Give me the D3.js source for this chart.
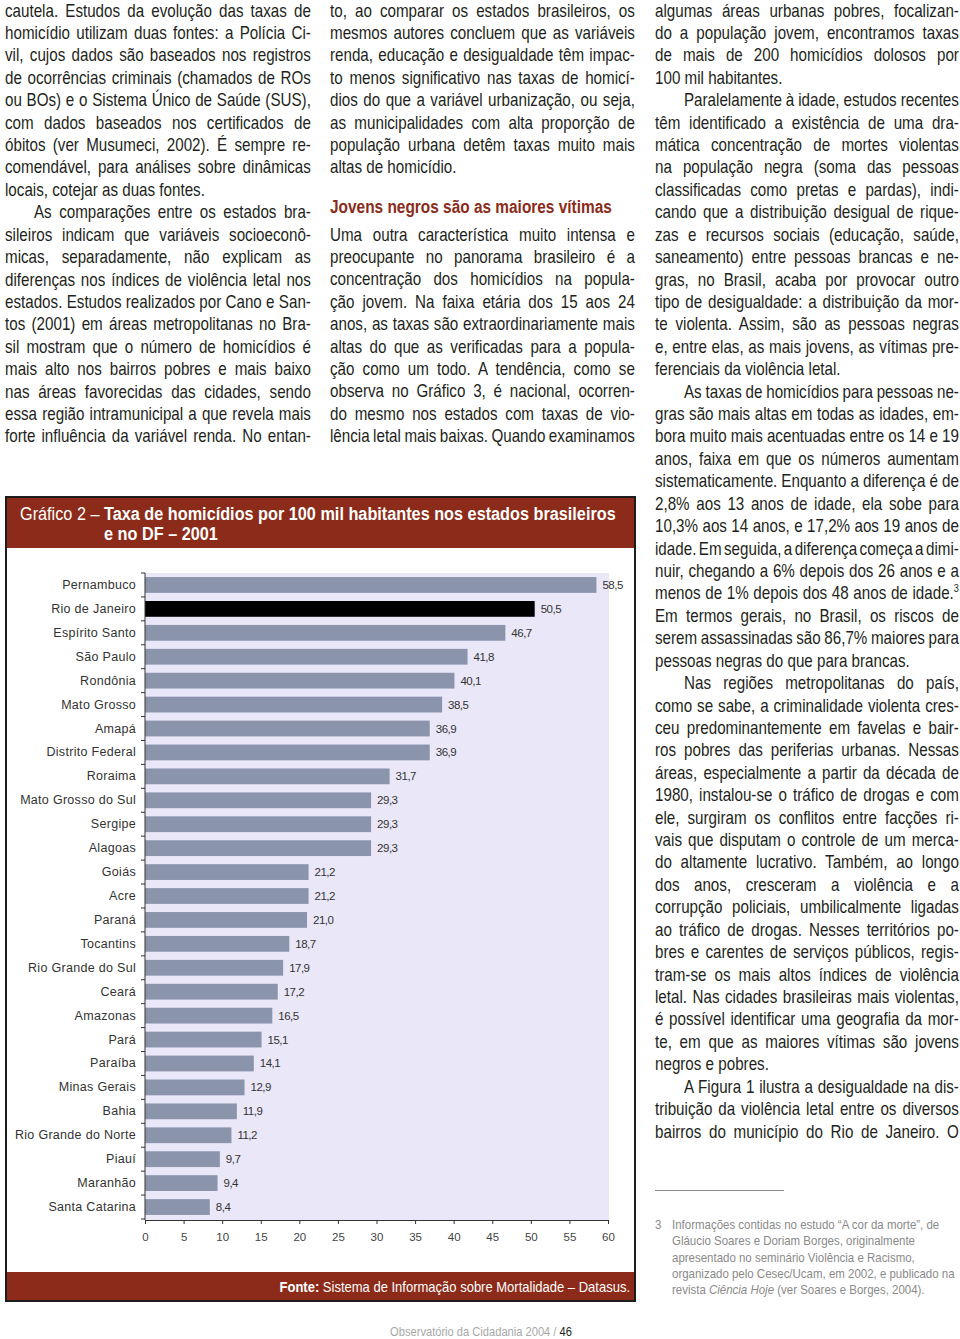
<!DOCTYPE html>
<html><head><meta charset="utf-8">
<script src="https://cdn.jsdelivr.net/npm/d3@7"></script>
<style>html,body{margin:0;padding:0;background:#fff;} svg{display:block;}</style>
</head><body>
<svg id="page" width="960" height="1339"></svg>
<script>
// ---------------- chart data ----------------
const states = ["Pernambuco","Rio de Janeiro","Espírito Santo","São Paulo","Rondônia","Mato Grosso","Amapá","Distrito Federal","Roraima","Mato Grosso do Sul","Sergipe","Alagoas","Goiás","Acre","Paraná","Tocantins","Rio Grande do Sul","Ceará","Amazonas","Pará","Paraíba","Minas Gerais","Bahia","Rio Grande do Norte","Piauí","Maranhão","Santa Catarina"];
const rates = [58.5,50.5,46.7,41.8,40.1,38.5,36.9,36.9,31.7,29.3,29.3,29.3,21.2,21.2,21.0,18.7,17.9,17.2,16.5,15.1,14.1,12.9,11.9,11.2,9.7,9.4,8.4];
const highlighted = ["Rio de Janeiro"];
const xTicks = [0,5,10,15,20,25,30,35,40,45,50,55,60];
const titleLight = "Gráfico 2 – ";
const titleBold1 = "Taxa de homicídios por 100 mil habitantes nos estados brasileiros";
const titleBold2 = "e no DF – 2001";
const sourceBold = "Fonte:";
const sourceText = " Sistema de Informação sobre Mortalidade – Datasus.";

// ---------------- page text ----------------
const col1 = [
"cautela. Estudos da evolução das taxas de",
"homicídio utilizam duas fontes: a Polícia Ci-",
"vil, cujos dados são baseados nos registros",
"de ocorrências criminais (chamados de ROs",
"ou BOs) e o Sistema Único de Saúde (SUS),",
"com dados baseados nos certificados de",
"óbitos (ver Musumeci, 2002). É sempre re-",
"comendável, para análises sobre dinâmicas",
"locais, cotejar as duas fontes.|",
">As comparações entre os estados bra-",
"sileiros indicam que variáveis socioeconô-",
"micas, separadamente, não explicam as",
"diferenças nos índices de violência letal nos",
"estados. Estudos realizados por Cano e San-",
"tos (2001) em áreas metropolitanas no Bra-",
"sil mostram que o número de homicídios é",
"mais alto nos bairros pobres e mais baixo",
"nas áreas favorecidas das cidades, sendo",
"essa região intramunicipal a que revela mais",
"forte influência da variável renda. No entan-"];
const col2a = [
"to, ao comparar os estados brasileiros, os",
"mesmos autores concluem que as variáveis",
"renda, educação e desigualdade têm impac-",
"to menos significativo nas taxas de homicí-",
"dios do que a variável urbanização, ou seja,",
"as municipalidades com alta proporção de",
"população urbana detêm taxas muito mais",
"altas de homicídio.|"];
const col2Heading = "Jovens negros são as maiores vítimas";
const col2b = [
"Uma outra característica muito intensa e",
"preocupante no panorama brasileiro é a",
"concentração dos homicídios na popula-",
"ção jovem. Na faixa etária dos 15 aos 24",
"anos, as taxas são extraordinariamente mais",
"altas do que as verificadas para a popula-",
"ção como um todo. A tendência, como se",
"observa no Gráfico 3, é nacional, ocorren-",
"do mesmo nos estados com taxas de vio-",
"lência letal mais baixas. Quando examinamos"];
const col3 = [
"algumas áreas urbanas pobres, focalizan-",
"do a população jovem, encontramos taxas",
"de mais de 200 homicídios dolosos por",
"100 mil habitantes.|",
">Paralelamente à idade, estudos recentes",
"têm identificado a existência de uma dra-",
"mática concentração de mortes violentas",
"na população negra (soma das pessoas",
"classificadas como pretas e pardas), indi-",
"cando que a distribuição desigual de rique-",
"zas e recursos sociais (educação, saúde,",
"saneamento) entre pessoas brancas e ne-",
"gras, no Brasil, acaba por provocar outro",
"tipo de desigualdade: a distribuição da mor-",
"te violenta. Assim, são as pessoas negras",
"e, entre elas, as mais jovens, as vítimas pre-",
"ferenciais da violência letal.|",
">As taxas de homicídios para pessoas ne-",
"gras são mais altas em todas as idades, em-",
"bora muito mais acentuadas entre os 14 e 19",
"anos, faixa em que os números aumentam",
"sistematicamente. Enquanto a diferença é de",
"2,8% aos 13 anos de idade, ela sobe para",
"10,3% aos 14 anos, e 17,2% aos 19 anos de",
"idade. Em seguida, a diferença começa a dimi-",
"nuir, chegando a 6% depois dos 26 anos e a",
"menos de 1% depois dos 48 anos de idade.^3^",
"Em termos gerais, no Brasil, os riscos de",
"serem assassinadas são 86,7% maiores para",
"pessoas negras do que para brancas.|",
">Nas regiões metropolitanas do país,",
"como se sabe, a criminalidade violenta cres-",
"ceu predominantemente em favelas e bair-",
"ros pobres das periferias urbanas. Nessas",
"áreas, especialmente a partir da década de",
"1980, instalou-se o tráfico de drogas e com",
"ele, surgiram os conflitos entre facções ri-",
"vais que disputam o controle de um merca-",
"do altamente lucrativo. Também, ao longo",
"dos anos, cresceram a violência e a",
"corrupção policiais, umbilicalmente ligadas",
"ao tráfico de drogas. Nesses territórios po-",
"bres e carentes de serviços públicos, regis-",
"tram-se os mais altos índices de violência",
"letal. Nas cidades brasileiras mais violentas,",
"é possível identificar uma geografia da mor-",
"te, em que as maiores vítimas são jovens",
"negros e pobres.|",
">A Figura 1 ilustra a desigualdade na dis-",
"tribuição da violência letal entre os diversos",
"bairros do município do Rio de Janeiro. O"];
const footnoteMark = "3";
const footnote = [
"Informações contidas no estudo “A cor da morte”, de",
"Gláucio Soares e Doriam Borges, originalmente",
"apresentado no seminário Violência e Racismo,",
"organizado pelo Cesec/Ucam, em 2002, e publicado na",
"revista *Ciência Hoje* (ver Soares e Borges, 2004)."];
const pageFooterGray = "Observatório da Cidadania 2004 / ";
const pageFooterNum = "46";

// ---------------- drawing ----------------
const FONT = "'Liberation Sans Narrow','Liberation Sans',Arial,sans-serif";
const RED = "#8c2b19";
const svg = d3.select("#page");

function parseRuns(s){
  const runs=[]; const re=/(\*[^*]+\*|\^[^^]+\^)/g; let last=0, m;
  while((m=re.exec(s))){
    if(m.index>last) runs.push({t:s.slice(last,m.index)});
    runs.push({t:m[0].slice(1,-1), kind:m[0][0]==='*'?'i':'sup'});
    last=re.lastIndex;
  }
  if(last<s.length) runs.push({t:s.slice(last)});
  return runs;
}
function addLine(g, str, size, fill, weight){
  const t=g.append("text").attr("x",0).attr("y",0).attr("font-size",size)
    .attr("fill",fill).attr("font-family",FONT).attr("font-weight",weight||"normal");
  parseRuns(str).forEach(r=>{
    const ts=t.append("tspan").text(r.t);
    if(r.kind==='i') ts.attr("font-style","italic");
    if(r.kind==='sup') ts.attr("font-size",size*0.6).attr("dy",-size*0.42);
  });
  return t;
}
const BODY = 17.5, LH = 22.42, INDENT = 29, TEXTC = "#231f20";
const allItems = [];
function column(lines, x, width, y0){
  const g = svg.append("g");
  lines.forEach((raw,i)=>{
    let s=raw, ind=0, just=true;
    if(s.startsWith(">")){ind=INDENT; s=s.slice(1);}
    if(s.endsWith("|")){just=false; s=s.slice(0,-1);}
    const t=addLine(g,s,BODY,TEXTC);
    allItems.push({t,s,ind,just,x,width,y:y0+i*LH,w:t.node().getComputedTextLength()});
  });
}
column(col1, 5, 306, 16.5);
column(col2a, 330, 305, 16.5);
column(col2b, 330, 305, 240.5);
column(col3, 655, 304, 16.5);
const ratios = allItems.filter(d=>d.just).map(d=>(d.width-d.ind)/d.w).sort(d3.ascending);
const K = d3.quantile(ratios, 0.08);
allItems.forEach(d=>{
  d.t.attr("transform",`translate(${d.x+d.ind},${d.y}) scale(${K},1)`);
  if(d.just){
    const spaces=(d.s.match(/ /g)||[]).length;
    if(spaces>0){
      const ws=((d.width-d.ind)/K - d.w)/spaces;
      d.t.style("word-spacing", ws+"px");
    }
  }
});
// heading
const hd = addLine(svg, col2Heading, BODY, RED, "bold");
const kh = 282 / hd.node().getComputedTextLength();
hd.attr("transform",`translate(330,213) scale(${kh},1)`);

// footnote
svg.append("line").attr("x1",655).attr("x2",784).attr("y1",1190.5).attr("y2",1190.5).attr("stroke","#8a8a8a").attr("stroke-width",1);
const FN = 13, FNC = "#8a8a8a";
const fnLines = footnote.map(s=>addLine(svg, s, FN, FNC));
const kf = 283 / fnLines[3].node().getComputedTextLength();
addLine(svg, footnoteMark, FN, FNC).attr("transform",`translate(655,1229) scale(${kf},1)`);
fnLines.forEach((t,i)=>t.attr("transform",`translate(672,${1229+i*16.3}) scale(${kf},1)`));

// page footer
const pf = svg.append("text").attr("font-family",FONT).attr("font-size",13).attr("text-anchor","middle");
pf.append("tspan").attr("fill","#a8a8a8").text(pageFooterGray);
pf.append("tspan").attr("fill","#231f20").text(pageFooterNum);
const kp = 182 / pf.node().getComputedTextLength();
pf.attr("transform",`translate(481,1336) scale(${kp},1)`);

// ---------------- chart ----------------
const cx0=6, cx1=635, cy0=497, cy1=1301;
svg.append("rect").attr("x",cx0).attr("y",cy0).attr("width",cx1-cx0).attr("height",cy1-cy0).attr("fill","#fff");
svg.append("rect").attr("x",cx0).attr("y",cy0).attr("width",cx1-cx0).attr("height",51).attr("fill",RED);
svg.append("rect").attr("x",cx0).attr("y",1272).attr("width",cx1-cx0).attr("height",cy1-1272).attr("fill",RED);
svg.append("rect").attr("x",cx0).attr("y",cy0).attr("width",cx1-cx0).attr("height",cy1-cy0)
  .attr("fill","none").attr("stroke","#1c1c1c").attr("stroke-width",2);

// title
const TT = 18.5;
const tl = svg.append("text").attr("font-family",FONT).attr("font-size",TT).attr("fill","#fff");
const tLight = tl.append("tspan").text(titleLight);
const tBold = tl.append("tspan").attr("font-weight","bold").text(titleBold1);
const tW = tl.node().getComputedTextLength();
const kt = 596 / tW;
const lightW = tLight.node().getComputedTextLength();
tl.attr("transform",`translate(20,520) scale(${kt},1)`);
svg.append("text").attr("font-family",FONT).attr("font-size",TT).attr("fill","#fff").attr("font-weight","bold")
  .attr("transform",`translate(${20+lightW*kt},540) scale(${kt},1)`).text(titleBold2);

// source
const src = svg.append("text").attr("font-family",FONT).attr("font-size",14).attr("fill","#fff").attr("text-anchor","end");
src.append("tspan").attr("font-weight","bold").text(sourceBold);
src.append("tspan").text(sourceText);
const ks = 351 / src.node().getComputedTextLength();
src.attr("transform",`translate(630,1292) scale(${ks},1)`);

// scales
const x = d3.scaleLinear().domain([0,60]).range([145,608]);
const y = d3.scaleBand().domain(states).range([573,1219]).paddingInner(0.34).paddingOuter(0.17);
const data = states.map((s,i)=>({s, v:rates[i]}));

svg.append("rect").attr("x",x(0)).attr("y",573).attr("width",x(60)+1-x(0)).attr("height",1220-573).attr("fill","#eae7f9");

svg.append("g").selectAll("rect").data(data).join("rect")
  .attr("x",x(0)).attr("y",d=>y(d.s)).attr("width",d=>x(d.v)-x(0)).attr("height",y.bandwidth())
  .attr("fill",d=>highlighted.includes(d.s)?"#000":"#8a95ac");

const fmt = v => d3.format(".1f")(v).replace(".",",");
svg.append("g").selectAll("text").data(data).join("text")
  .attr("x",d=>x(d.v)+6).attr("y",d=>y(d.s)+y.bandwidth()/2+4)
  .attr("font-family","'Liberation Sans',Arial,sans-serif").attr("font-size",11.5).attr("fill","#333")
  .attr("letter-spacing",-0.5)
  .text(d=>fmt(d.v));

// y axis
const yAxis = svg.append("g").attr("transform",`translate(${x(0)},0)`)
  .call(d3.axisLeft(y).tickSize(0).tickPadding(9));
yAxis.select(".domain").attr("stroke","#333").attr("d",`M0,573V1220`);
yAxis.selectAll("text").attr("font-family","'Liberation Sans',Arial,sans-serif").attr("font-size",12.5)
  .attr("letter-spacing",0.3).attr("fill","#333");
// boundary ticks
const bounds = d3.range(states.length+1).map(i=>573 + i*y.step());
svg.append("g").selectAll("line").data(bounds).join("line")
  .attr("x1",x(0)-4).attr("x2",x(0)).attr("y1",d=>d).attr("y2",d=>d).attr("stroke","#333");

// x axis
const xAxis = svg.append("g").attr("transform","translate(0,1220)")
  .call(d3.axisBottom(x).tickValues(xTicks).tickSize(4).tickPadding(9).tickFormat(d3.format("d")));
xAxis.select(".domain").attr("stroke","#333");
xAxis.selectAll("line").attr("stroke","#333");
xAxis.selectAll("text").attr("font-family","'Liberation Sans',Arial,sans-serif").attr("font-size",11.5).attr("fill","#444");
</script>
</body></html>
